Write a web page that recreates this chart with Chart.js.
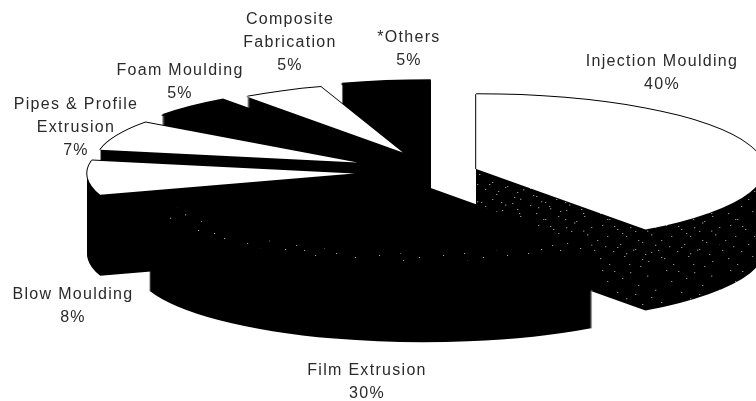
<!DOCTYPE html>
<html>
<head>
<meta charset="utf-8">
<title>Plastics processing shares</title>
<script src="https://cdn.jsdelivr.net/npm/chart.js@4"></script>
<style>
html, body { margin: 0; background: #fff; }
canvas { display: block; }
</style>
</head>
<body>
<canvas id="graficoPizza" width="756" height="401"></canvas>
<script>
const categories = ['Injection Moulding', 'Film Extrusion', 'Blow Moulding', 'Pipes & Profile Extrusion', 'Foam Moulding', 'Composite Fabrication', '*Others']
const shares = [40, 30, 8, 7, 5, 5, 5]

// how each label breaks over lines, and where its block sits
const labelLines = [['Injection Moulding'], ['Film Extrusion'], ['Blow Moulding'], ['Pipes & Profile', 'Extrusion'], ['Foam Moulding'], ['Composite', 'Fabrication'], ['*Others']]
const labelX = [662, 367, 73, 76, 180, 290, 409]
const labelY = [62, 371, 295, 105, 71, 20, 38]
const lineGap = 23

// slice look: face colour, how far it is pulled out, its radius
const faceColors = ['#fff', '#000', '#fff', '#fff', '#000', '#fff', '#000']
const sliceOffsets = [37, 58, 87, 91, 79, 84, 66]
const sliceRadius = [288, 288, 267, 262, 276, 265, 288]
const drawOrder = [6, 4, 5, 3, 0, 2, 1]

const squash = 0.26
const depth = 81

// white flecks on the dark sides
const fleckTile = [[3, 12], [11, 40], [19, 18], [27, 66], [36, 30], [44, 84], [55, 8], [60, 52],
    [6, 92], [15, 118], [24, 100], [31, 140], [40, 112], [50, 132], [58, 158], [9, 150],
    [2, 176], [13, 196], [22, 170], [34, 188], [37, 214], [47, 172], [53, 204], [62, 226],
    [18, 226], [29, 232]]

function makeFlecks() {
    const tile = document.createElement('canvas')
    tile.width = 64
    tile.height = 240
    const c = tile.getContext('2d')
    c.fillStyle = '#bbb'
    for (const [x, y] of fleckTile) {
        c.fillRect(x, y, 1, 4)
    }
    return tile
}

function paintArc(ctx, arc, i, fill, dx, dy, inner) {
    // the pull out is done here, arc.draw would also trim and grow the slice
    const mid = (arc.startAngle + arc.endAngle) / 2
    const options = arc.options
    arc.options = Object.assign({}, options, { backgroundColor: fill, borderWidth: 0, offset: 0 })
    arc.outerRadius = sliceRadius[i]
    arc.innerRadius = inner || 0
    ctx.save()
    ctx.translate(dx, arc.y + dy)
    ctx.scale(1, squash)
    ctx.translate(Math.cos(mid) * sliceOffsets[i], Math.sin(mid) * sliceOffsets[i] - arc.y)
    arc.draw(ctx)
    ctx.restore()
    arc.options = options
    arc.innerRadius = 0
}

const tiltedPie = {
    id: 'tiltedPie',
    beforeDatasetsDraw(chart) {
        const ctx = chart.ctx
        const arcs = chart.getDatasetMeta(0).data
        const flecks = ctx.createPattern(makeFlecks(), 'repeat')
        for (const i of drawOrder) {
            const arc = arcs[i]
            for (let dy = depth; dy >= -1; dy--) {
                paintArc(ctx, arc, i, '#000', 0, dy)
            }
            paintArc(ctx, arc, i, '#000', -1, 0)
            if (i === 0) {
                paintArc(ctx, arc, i, flecks, 0, depth)
                paintArc(ctx, arc, i, flecks, 0, 36)
            }
            paintArc(ctx, arc, i, faceColors[i], 0, 0)
            if (i === 1) {
                paintArc(ctx, arc, i, flecks, 0, 0, sliceRadius[i] * 0.9)
            }
        }
        return false
    },
    afterDraw(chart) {
        const ctx = chart.ctx
        ctx.save()
        ctx.font = '16px "Liberation Sans"'
        ctx.letterSpacing = '1.3px'
        ctx.fillStyle = '#2a2a2a'
        ctx.textAlign = 'center'
        ctx.textBaseline = 'middle'
        categories.forEach((name, i) => {
            const lines = labelLines[i].concat(shares[i] + '%')
            lines.forEach((line, n) => {
                ctx.fillText(line, labelX[i], labelY[i] + n * lineGap)
            })
        })
        ctx.restore()
    }
}

var graficoPizza = new Chart(document.getElementById('graficoPizza'), {
    type: 'pie',
    data: {
        labels: categories,
        datasets: [{
            data: shares,
            backgroundColor: faceColors,
            borderWidth: 0
        }]
    },
    options: {
        responsive: false,
        animation: false,
        radius: 288,
        layout: { padding: { left: 126, bottom: 57 } },
        plugins: {
            legend: { display: false },
            tooltip: { enabled: false }
        }
    },
    plugins: [tiltedPie]
})
</script>
</body>
</html>
